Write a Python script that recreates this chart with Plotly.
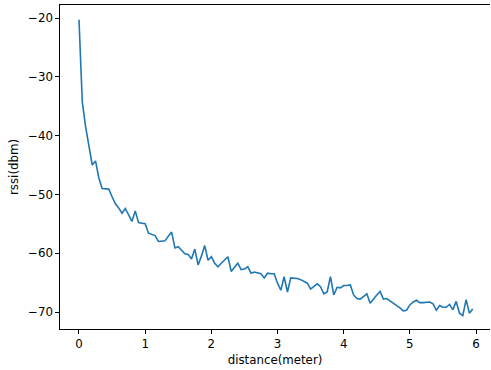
import plotly.graph_objects as go

step = 0.05
rssi = [
    -20.3, -34.3, -38.5, -41.6, -45.0, -44.3, -47.2, -49.0, -49.0, -49.1,
    -50.4, -51.6, -52.3, -53.2, -52.4, -53.5, -54.6, -52.8, -54.8, -54.9,
    -55.0, -56.6, -56.8, -57.0, -58.0, -58.0, -57.9, -57.1, -56.4, -59.1,
    -58.9, -59.5, -60.1, -60.2, -61.0, -59.3, -62.0, -60.5, -58.7, -61.2,
    -60.6, -61.7, -62.3, -61.7, -61.1, -60.6, -63.1, -62.4, -61.7, -62.8,
    -62.7, -62.3, -63.4, -63.2, -63.3, -63.5, -64.2, -63.4, -63.5, -63.5,
    -65.1, -66.3, -64.0, -66.6, -64.2, -64.2, -64.3, -64.5, -64.8, -65.1,
    -66.1, -65.7, -65.2, -65.7, -66.9, -66.6, -64.0, -67.1, -65.8, -65.9,
    -65.5, -65.5, -65.4, -67.1, -67.7, -67.8, -67.3, -66.9, -68.5, -67.7,
    -67.1, -66.5, -67.8, -67.7, -68.1, -68.5, -68.8, -69.3, -69.8, -69.7,
    -68.8, -68.3, -68.0, -68.4, -68.4, -68.4, -68.3, -68.6, -69.7, -68.9,
    -69.2, -69.2, -68.7, -69.6, -68.2, -70.2, -70.6, -67.9, -70.2, -69.5,
]
distance = [round(i * step, 2) for i in range(len(rssi))]

x_ticks = [0, 1, 2, 3, 4, 5, 6]
y_ticks = [-70, -60, -50, -40, -30, -20]

font = dict(family="DejaVu Sans", size=11.8, color="black")

fig = go.Figure(go.Scatter(
    x=distance, y=rssi, mode="lines",
    line=dict(color="#1f77b4", width=1.6),
))

fig.update_layout(
    width=491, height=370,
    margin=dict(l=60, r=1, t=5, b=41),
    paper_bgcolor="white", plot_bgcolor="white",
    font=font, showlegend=False,
)
fig.update_xaxes(
    range=[-0.287, 6.211], tickvals=x_ticks,
    showgrid=False, zeroline=False,
    showline=True, linecolor="black", linewidth=0.9, mirror=True,
    ticks="outside", ticklen=3.7, tickwidth=0.9, tickcolor="black",
    tickfont=font,
    title=dict(text="distance(meter)", font=font, standoff=5),
)
fig.update_yaxes(
    range=[-72.89, -17.79], tickvals=y_ticks,
    showgrid=False, zeroline=False,
    showline=True, linecolor="black", linewidth=0.9, mirror=False,
    ticks="outside", ticklen=3.7, tickwidth=0.9, tickcolor="black",
    tickfont=font,
    title=dict(text="rssi(dbm)", font=font, standoff=6),
)

fig.write_html("out.html")
